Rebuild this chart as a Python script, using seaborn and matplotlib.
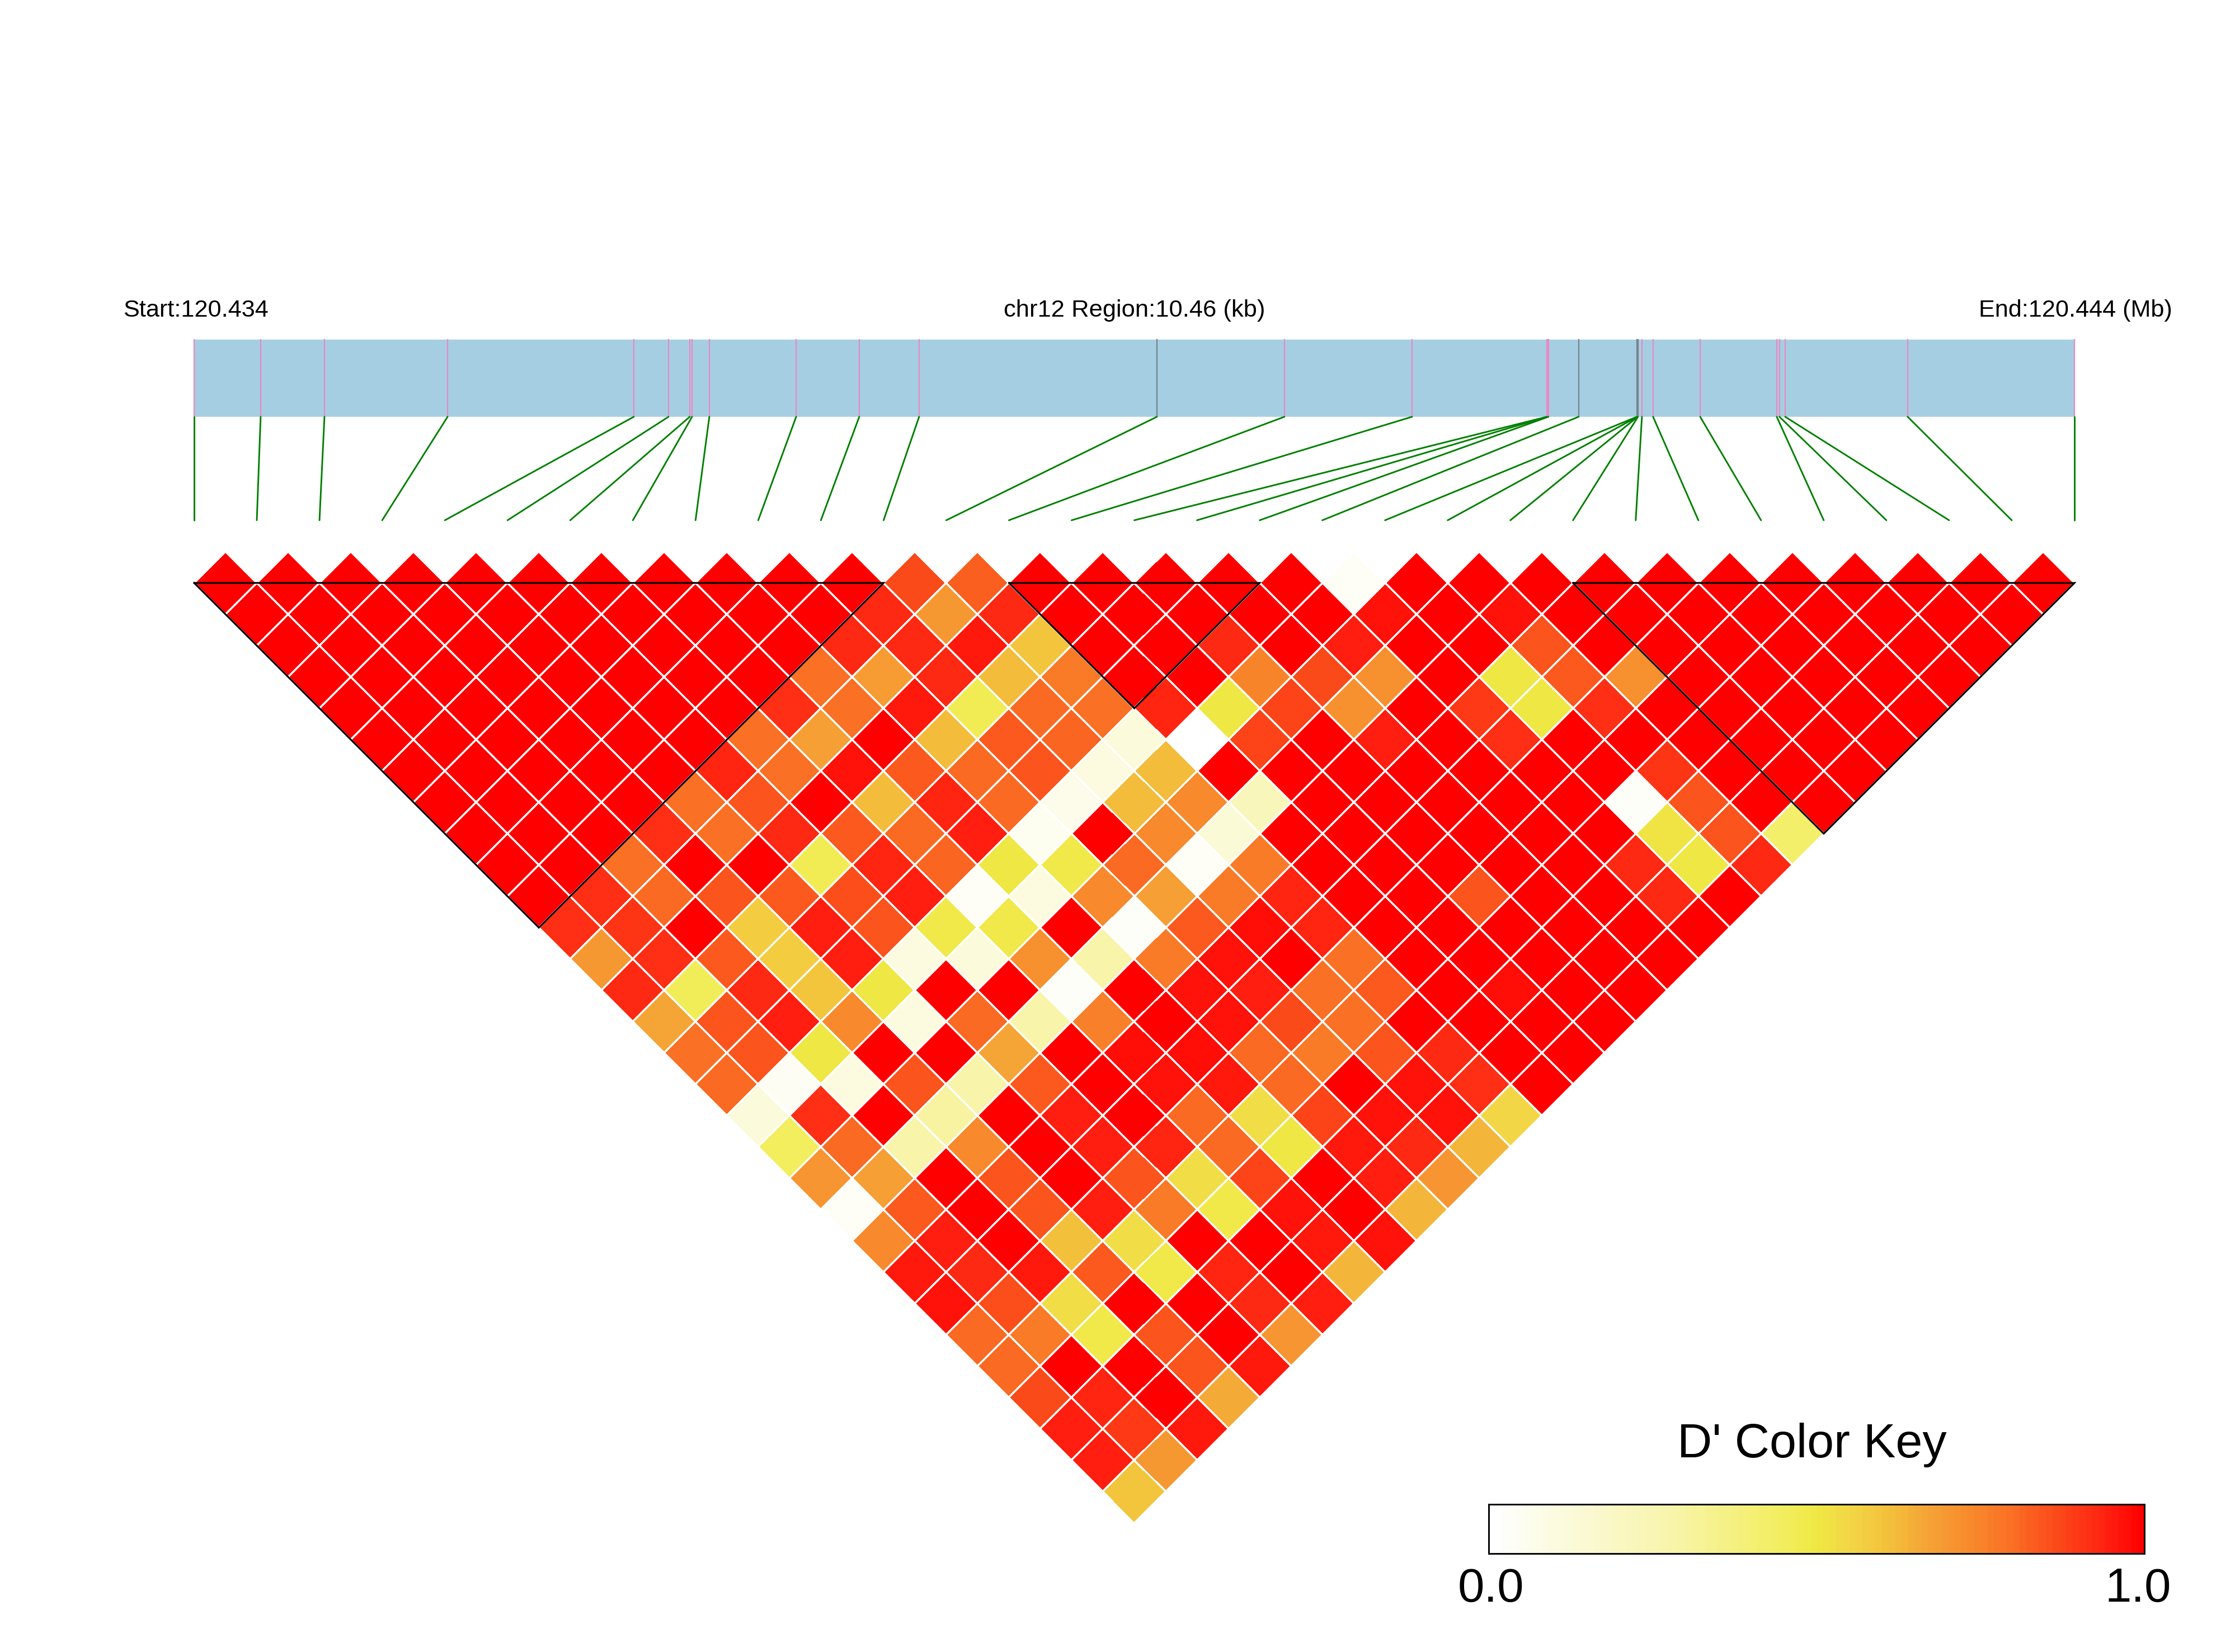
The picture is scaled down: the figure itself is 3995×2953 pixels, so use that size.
import numpy as np
import matplotlib
matplotlib.use("Agg")
import matplotlib.pyplot as plt
from matplotlib.colors import LinearSegmentedColormap
from matplotlib.patches import Rectangle
from matplotlib.transforms import Affine2D
import seaborn as sns

# SNP positions along the region, kb from region start
snp_kb = [0.000, 0.370, 0.725, 1.410, 2.446, 2.639, 2.757, 2.770, 2.866, 3.349, 3.700,
          4.033, 5.356, 6.065, 6.775, 7.525, 7.528, 7.534, 7.702, 8.026, 8.029, 8.030,
          8.032, 8.054, 8.116, 8.378, 8.804, 8.819, 8.851, 9.532, 10.460]
dark_snps = [12, 18, 19, 20, 21, 22]
region_kb = 10.46
blocks = [(0, 11), (13, 17), (22, 30)]

# D' by SNP separation (d01 = neighbouring SNPs), first SNP left to right
d01 = [1]*11 + [.87, .83, 1, 1, 1, 1, 1, .03] + [1]*11
d02 = [1]*10 + [.93, .7, .93, 1, 1, 1, 1, 1, .97, 1, .97] + [1]*8
d03 = [1]*9 + [.93, .93, .96, .6, 1, 1, .93, 1, .95, 1, 1, .85] + [1]*7
d04 = [1]*8 + [.8, .69, .93, .62, .77, 1, 1, .75, .87, .72, 1, .5, .84, .72] + [1]*5
d05 = [1]*7 + [.92, .8, .96, .47, .81, .8, .94, .5, .88, .72, 1, .9, .5, .92] + [1]*5
d06 = [1]*6 + [.8, .68, 1, .62, .84, .82, .12, 0, .88, 1, .95, 1, .92] + [1]*6
d07 = [1]*5 + [.94, .8, .97, .84, .81, .85, .1, .62, 1, 1, 1, 1, 1, 1, 1, .91, 1, 1, 1]
d08 = [1]*4 + [.8, .85, 1, .62, .94, .81, .07, .62, .74, .22, 1, 1, 1, 1, 1, .02, .85, 1, 1]
d09 = [1]*3 + [.92, .8, .93, .84, .81, .95, .05, 1, .74, .13, 1, 1, 1, 1, 1, 1, .51, .85, .42]
d10 = [1, 1, .8, 1, 1, .47, .94, .82, .5, .49, .81, .03, .77, 1, 1, 1, 1, 1, .93, .5, .93]
d11 = [1, .92, .81, .85, .84, .86, .95, .03, .1, .74, .68, .77, .94, 1, 1, .85, 1, 1, .93, 1]
d12 = [.92, .91, 1, .58, .95, .85, .49, .49, 1, .02, .84, .98, .94, 1, 1, 1, 1, 1, 1]
d13 = [.7, .92, .84, .58, .95, .1, .12, .72, .28, .77, .97, 1, .8, 1, 1, 1, 1, 1]
d14 = [.93, .46, .93, .6, .5, 1, 1, .02, 1, .97, .95, .8, .84, 1, .98, 1, 1]
d15 = [.67, .85, .95, .74, .1, .81, .28, .76, 1, .97, .87, .8, 1, 1, 1, 1]
d16 = [.8, .85, .5, 1, 1, .67, 1, .98, .98, .81, .77, .85, .93, 1, 1]
d17 = [.81, .04, .1, .85, .28, .84, 1, .97, .96, .81, 1, .97, .92, 1]
d18 = [.12, .92, 1, .3, 1, .95, 1, .81, .53, .88, .97, .97, .55]
d19 = [.45, .81, .28, .74, 1, .95, .94, .81, .5, .96, .93, .63]
d20 = [.71, .68, 1, .85, 1, .85, .53, .88, 1, .95, .71]
d21 = [.03, .84, 1, .85, .95, .77, .49, .97, 1, .63]
d22 = [.74, .95, 1, .61, .53, 1, 1, .96, .97]
d23 = [.96, .93, .96, .84, .49, .94, 1, .63]
d24 = [.97, .86, .53, 1, 1, .93, .95]
d25 = [.81, .77, .49, .85, 1, .71]
d26 = [.81, 1, 1, .85, .96]
d27 = [.87, .94, 1, .66]
d28 = [.95, .9, .96]
d29 = [.95, .7]
d30 = [.6]
by_distance = [d01, d02, d03, d04, d05, d06, d07, d08, d09, d10, d11, d12, d13, d14, d15,
               d16, d17, d18, d19, d20, d21, d22, d23, d24, d25, d26, d27, d28, d29, d30]

key_title = "D' Color Key"
key_ticks = ["0.0", "1.0"]
start_label = "Start:120.434"
mid_label = "chr12 Region:10.46 (kb)"
end_label = "End:120.444 (Mb)"

W, H = 3995, 2953
DPI = 300
LEFT, RIGHT = 347.0, 3708.0
STEP = (RIGHT - LEFT) / 30
HALF = STEP / 2
TOP_Y = 1042.0

sns.set_theme(style="white")
plt.rcParams["font.family"] = ["Liberation Sans", "DejaVu Sans"]

cmap = LinearSegmentedColormap.from_list("dprime", [
    (0.00, "#ffffff"), (0.12, "#fbfad9"), (0.28, "#f8f4a9"), (0.45, "#f2ee5e"),
    (0.50, "#efe844"), (0.55, "#f2d645"), (0.60, "#f3c53d"), (0.68, "#f5a035"),
    (0.74, "#f8892c"), (0.80, "#fa7025"), (0.87, "#fb4a1a"), (0.95, "#ff2010"),
    (1.00, "#ff0000")], N=256)

n = len(by_distance)
ld = np.full((n, n), np.nan)
for d, row in enumerate(by_distance, start=1):
    for i, v in enumerate(row):
        ld[i, i + d - 1] = v

fig = plt.figure(figsize=(W / DPI, H / DPI), dpi=DPI, facecolor="white")
ax = fig.add_axes([0, 0, 1, 1])

sns.heatmap(ld, mask=np.isnan(ld), cmap=cmap, vmin=0, vmax=1, cbar=False,
            linewidths=0.45, linecolor="white", xticklabels=False, yticklabels=False,
            square=False, ax=ax)
mesh = ax.collections[0]
rot = Affine2D.from_values(HALF, HALF, HALF, -HALF, LEFT, TOP_Y)
mesh.set_transform(rot + ax.transData)
ax.set_xlim(0, W)
ax.set_ylim(H, 0)
ax.axis("off")

def kb_to_px(kb):
    return LEFT + (RIGHT - LEFT) * kb / region_kb

# gene bar
BAR_TOP, BAR_BOTTOM, LINK_BOTTOM = 607, 745, 930
ax.add_patch(Rectangle((LEFT, BAR_TOP), RIGHT - LEFT, BAR_BOTTOM - BAR_TOP,
                       facecolor="#a6cee3", edgecolor="none", zorder=1))
for k, kb in enumerate(snp_kb):
    x = kb_to_px(kb)
    col = "#75868c" if k in dark_snps else "#e78ac3"
    ax.plot([x, x], [BAR_TOP - 1, BAR_BOTTOM], color=col, lw=0.55, zorder=2, solid_capstyle="butt")
    ax.plot([x, LEFT + k * STEP], [BAR_BOTTOM, LINK_BOTTOM], color="#008000", lw=0.7, zorder=2)

# LD block outlines
for a, b in blocks:
    xa, xb = LEFT + a * STEP, LEFT + b * STEP
    ax.plot([xa, xb, (xa + xb) / 2, xa], [TOP_Y, TOP_Y, TOP_Y + (b - a) * HALF, TOP_Y],
            color="black", lw=0.75, zorder=3, solid_joinstyle="miter")

ax.text(350, 555, start_label, ha="center", va="center", fontsize=10.4, color="black")
ax.text(2028, 555, mid_label, ha="center", va="center", fontsize=10.45, color="black")
ax.text(3710, 555, end_label, ha="center", va="center", fontsize=10.4, color="black")

# colour key
KX0, KX1, KY0, KY1 = 2661, 3833, 2689, 2777
ax.text((KX0 + KX1) / 2 - 8, 2583, key_title, ha="center", va="center", fontsize=20.7, color="black")
ax.text(KX0 + 4, 2841, key_ticks[0], ha="center", va="center", fontsize=20.5, color="black")
ax.text(KX1 - 11, 2841, key_ticks[1], ha="center", va="center", fontsize=20.5, color="black")

ax_key = fig.add_axes([KX0 / W, 1 - KY1 / H, (KX1 - KX0) / W, (KY1 - KY0) / H])
sns.heatmap(np.linspace(0, 1, 100).reshape(1, -1), cmap=cmap, vmin=0, vmax=1, cbar=False,
            xticklabels=False, yticklabels=False, ax=ax_key)
for s in ax_key.spines.values():
    s.set_visible(True)
    s.set_color("black")
    s.set_linewidth(0.7)

fig.savefig("out.png", dpi=DPI, facecolor="white")
